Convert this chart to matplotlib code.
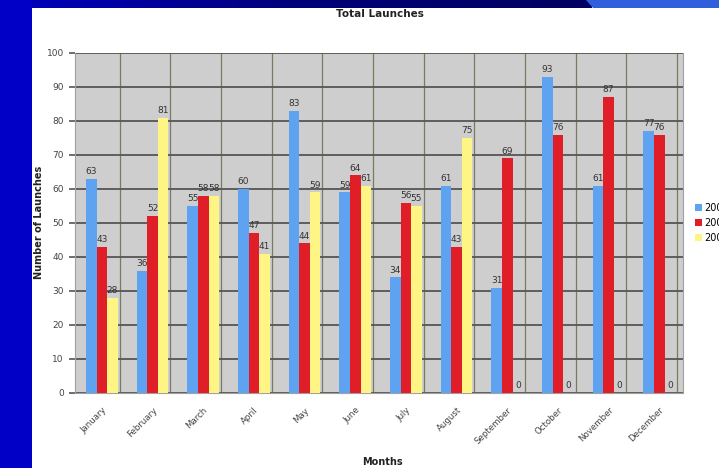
import matplotlib
matplotlib.use("Agg")
import matplotlib.pyplot as plt
import numpy as np
from matplotlib.patches import Rectangle, Polygon
from matplotlib.colors import LinearSegmentedColormap

months = ["January", "February", "March", "April", "May", "June", "July",
          "August", "September", "October", "November", "December"]
series_names = ["2006", "2007", "2008"]
launches_2006 = [63, 36, 55, 60, 83, 59, 34, 61, 31, 93, 61, 77]
launches_2007 = [43, 52, 58, 47, 44, 64, 56, 43, 69, 76, 87, 76]
launches_2008 = [28, 81, 58, 41, 59, 61, 55, 75, 0, 0, 0, 0]
y_ticks = list(range(0, 101, 10))

colors = ["#5ea2f2", "#e01e28", "#fff584"]

W, H = 719, 468
fig = plt.figure(figsize=(W / 100, H / 100), dpi=100)
fig.patch.set_facecolor("white")

# slide decoration: blue left strip and top band
bg = fig.add_axes([0, 0, 1, 1], zorder=-10)
bg.axis("off")
bg.add_patch(Rectangle((0, 0), 32, H, color="#0000c6", lw=0))
grad = np.linspace(0, 1, 256)[None, :]
band_cmap = LinearSegmentedColormap.from_list("band", ["#0000c0", "#00007a", "#000060"])
bg.imshow(grad, cmap=band_cmap, extent=(0, 592, 8, 0), aspect="auto")
bg.add_patch(Polygon([(586, 0), (W, 0), (W, 8), (593, 8)], closed=True,
                     color="#2f5fdc", lw=0))
bg.set_xlim(0, W)
bg.set_ylim(H, 0)

ax = fig.add_axes([75 / W, 1 - 393 / H, (683 - 75) / W, (393 - 53) / H])
ax.set_facecolor("#cecece")

x = np.arange(len(months)) + 0.03
bw = 0.21
for k, (vals, col, name) in enumerate(zip([launches_2006, launches_2007, launches_2008],
                                          colors, series_names)):
    pos = x + (k - 1) * bw
    ax.bar(pos, vals, width=bw, color=col, label=name, zorder=3, lw=0)
    for px, v in zip(pos, vals):
        ax.text(px, v + 0.8, str(v), ha="center", va="bottom", fontsize=6.5,
                color="#333333", zorder=4)

ax.set_xlim(-0.5, len(months) - 0.5)
ax.set_ylim(0, 100)
ax.set_yticks(y_ticks)
ax.set_yticklabels([str(t) for t in y_ticks], fontsize=6.5, color="#444444")
ax.set_xticks(x)
ax.set_xticklabels(months, rotation=45, ha="right", rotation_mode="anchor",
                   fontsize=6.2, color="#444444")
ax.set_xticks(x + 0.35, minor=True)
ax.tick_params(axis="x", which="both", length=0, pad=9)
ax.tick_params(axis="y", length=4, color="#555555", width=1.2, pad=4)
ax.grid(axis="y", color="#555555", lw=1.3, zorder=1)
ax.grid(axis="x", which="minor", color="#7a7a60", lw=0.9, zorder=1)
for s in ax.spines.values():
    s.set_color("#a0a0a0")
    s.set_linewidth(0.8)
ax.spines["top"].set_visible(False)

fig.text(39 / W, 1 - 222 / H, "Number of Launches", ha="center", va="center",
         rotation=90, fontsize=7, fontweight="bold", color="#222222")
fig.text(382 / W, 1 - 462 / H, "Months", ha="center", va="center", fontsize=7,
         fontweight="bold", color="#222222")
fig.text(380 / W, 1 - 14 / H, "Total Launches", ha="center", va="center",
         fontsize=7.5, fontweight="bold", color="#222222")

leg = fig.legend(loc="upper left", bbox_to_anchor=(690 / W, 1 - 198 / H),
                 frameon=False, fontsize=7, handlelength=0.7, handleheight=0.7,
                 handletextpad=0.3, labelspacing=0.5, borderpad=0)

fig.savefig("out.png", dpi=100)
